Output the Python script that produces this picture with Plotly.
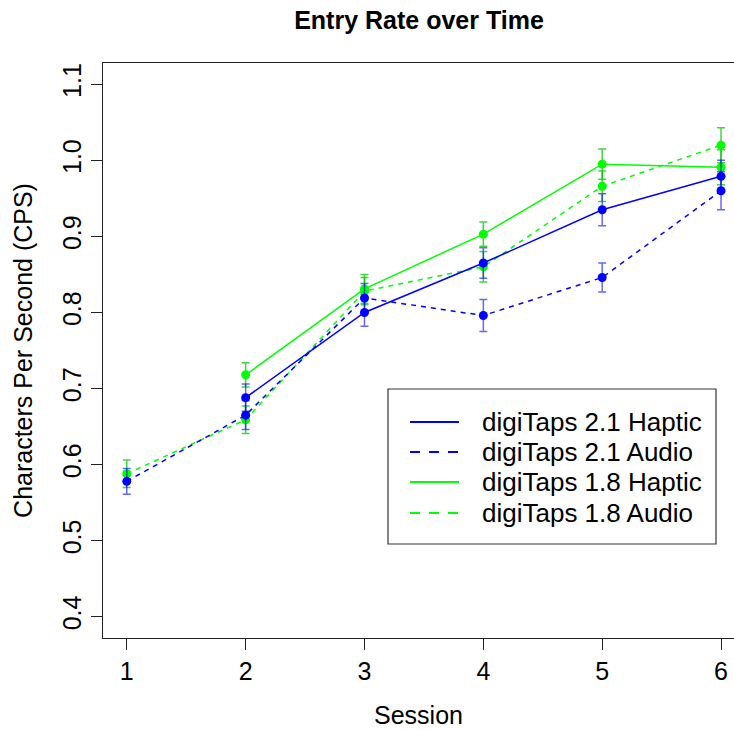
import plotly.graph_objects as go

sessions = [1, 2, 3, 4, 5, 6]

v21_haptic = [None, 0.688, 0.800, 0.865, 0.935, 0.979]
v21_haptic_err = [None, 0.018, 0.018, 0.020, 0.021, 0.021]
v21_audio = [0.578, 0.665, 0.819, 0.796, 0.846, 0.960]
v21_audio_err = [0.017, 0.019, 0.019, 0.021, 0.019, 0.025]
v18_haptic = [None, 0.718, 0.831, 0.903, 0.995, 0.991]
v18_haptic_err = [None, 0.016, 0.019, 0.016, 0.020, 0.023]
v18_audio = [0.588, 0.659, 0.828, 0.860, 0.966, 1.020]
v18_audio_err = [0.018, 0.018, 0.018, 0.020, 0.020, 0.023]

series_names = ["digiTaps 2.1 Haptic", "digiTaps 2.1 Audio",
                "digiTaps 1.8 Haptic", "digiTaps 1.8 Audio"]
y_ticks = [0.4, 0.5, 0.6, 0.7, 0.8, 0.9, 1.0, 1.1]

BLUE = "#0000FF"
GREEN = "#00FF00"
BLUE_ERR = "rgba(0,0,255,0.6)"
GREEN_ERR = "rgba(0,200,0,0.75)"
DASH = "5px,5px"
FONT = "Liberation Sans, Arial, Helvetica, sans-serif"

W, H = 734, 730
ML, MR, MT, MB = 103, 0, 63, 92
PW, PH = W - ML - MR, H - MT - MB


def px_x(p):
    return (p - ML) / PW


def px_y(p):
    return (H - MB - p) / PH


specs = [
    (series_names[0], v21_haptic, v21_haptic_err, BLUE, BLUE_ERR, "solid"),
    (series_names[1], v21_audio, v21_audio_err, BLUE, BLUE_ERR, DASH),
    (series_names[2], v18_haptic, v18_haptic_err, GREEN, GREEN_ERR, "solid"),
    (series_names[3], v18_audio, v18_audio_err, GREEN, GREEN_ERR, DASH),
]

fig = go.Figure()
# draw order: green first, blue on top
for name, ys, errs, col, ecol, dash in [specs[2], specs[3], specs[0], specs[1]]:
    fig.add_trace(go.Scatter(
        x=sessions, y=ys, mode="lines+markers", name=name, showlegend=False,
        line=dict(color=col, width=1.5, dash=dash),
        marker=dict(color=col, size=9),
        error_y=dict(type="data", array=errs, visible=True, color=ecol,
                     thickness=1.5, width=4),
        connectgaps=False,
    ))

# legend box (R-style)
shapes = [dict(type="rect", xref="paper", yref="paper",
               x0=px_x(388), x1=px_x(716), y0=px_y(544), y1=px_y(389),
               line=dict(color="#333", width=1.2), fillcolor="white", layer="above")]
annotations = []
row_y = [422, 452, 482, 513]
for (name, ys, errs, col, ecol, dash), ry in zip(specs, row_y):
    shapes.append(dict(type="line", xref="paper", yref="paper",
                       x0=px_x(410), x1=px_x(459), y0=px_y(ry), y1=px_y(ry),
                       line=dict(color=col, width=2,
                                 dash="solid" if dash == "solid" else "10px,9px"),
                       layer="above"))
    annotations.append(dict(text=name, xref="paper", yref="paper",
                            x=px_x(480), y=px_y(ry), xanchor="left", yanchor="middle",
                            showarrow=False, font=dict(size=26, family=FONT, color="black")))

fig.update_layout(
    width=W, height=H,
    margin=dict(l=ML, r=MR, t=MT, b=MB),
    paper_bgcolor="white", plot_bgcolor="white",
    font=dict(family=FONT, size=25, color="black"),
    title=dict(text="<b>Entry Rate over Time</b>", x=419 / W, xanchor="center",
               xref="container", y=1 - 20 / H, yref="container", yanchor="middle",
               font=dict(size=25, family=FONT, color="black")),
    xaxis=dict(range=[0.8, 6.109], tickvals=sessions, ticktext=[str(s) for s in sessions],
               showgrid=False, zeroline=False, showline=True, linecolor="#222",
               linewidth=1.2, mirror=True, ticks="outside", ticklen=11, tickwidth=1,
               tickcolor="#222", tickfont=dict(size=25),
               title=dict(text="Session", font=dict(size=25), standoff=22)),
    yaxis=dict(range=[0.372, 1.128], tickvals=y_ticks, tickformat=".1f",
               tickangle=-90, showgrid=False, zeroline=False, showline=True,
               linecolor="#222", linewidth=1.2, mirror=False, ticks="outside",
               ticklen=11, tickwidth=1, tickcolor="#222", tickfont=dict(size=25),
               title=dict(text="Characters Per Second (CPS)", font=dict(size=25),
                          standoff=18)),
    showlegend=False,
    shapes=shapes,
    annotations=annotations,
)

fig.write_html("out.html")
